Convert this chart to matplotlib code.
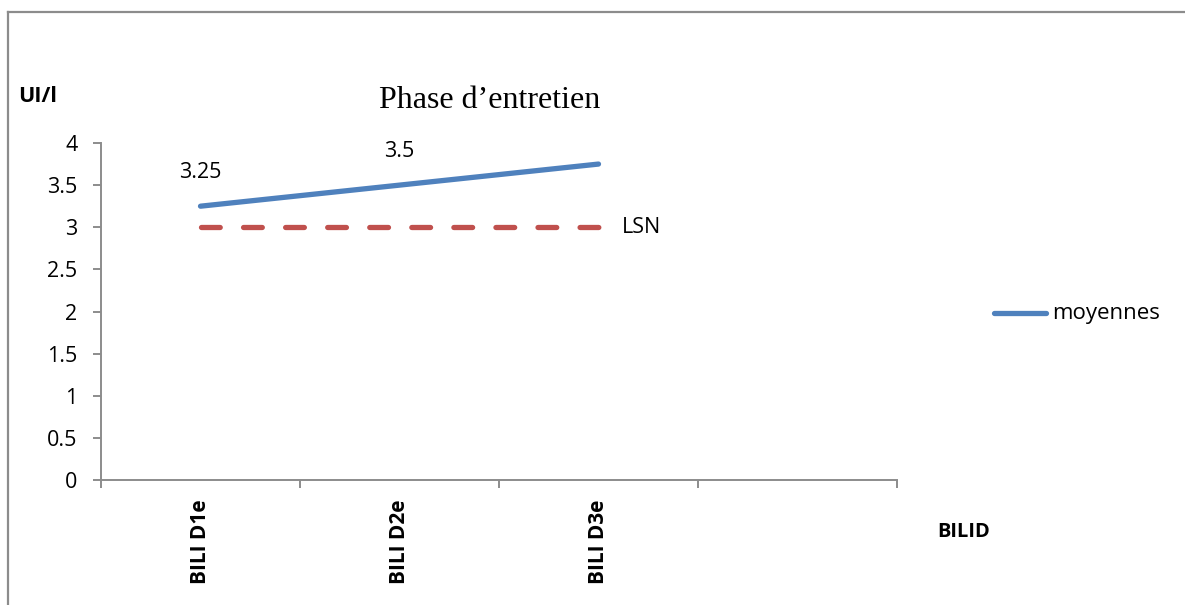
import matplotlib
matplotlib.use("Agg")
import matplotlib.pyplot as plt
from matplotlib.lines import Line2D

# Data
categories = ["BILI D1e", "BILI D2e", "BILI D3e", ""]
moyennes = [3.25, 3.5, 3.75]
moyennes_labels = ["3.25", "3.5", None]
lsn_value = 3.0
y_ticks = [0, 0.5, 1, 1.5, 2, 2.5, 3, 3.5, 4]
y_tick_labels = ["0", "0.5", "1", "1.5", "2", "2.5", "3", "3.5", "4"]

W, H = 1185, 605
fig = plt.figure(figsize=(W / 100, H / 100), dpi=100)
fig.patch.set_facecolor("white")

SANS = ["Open Sans", "DejaVu Sans"]
SERIF = ["Liberation Serif", "DejaVu Serif"]
AX_COL = "#8c8c8c"
FS = 15.5

# Outer frame (left and top edges visible)
fig.add_artist(Line2D([8 / W, 8 / W], [0, 1 - 12 / H], transform=fig.transFigure,
                      color="#8c8c8c", lw=1.6))
fig.add_artist(Line2D([8 / W, 1], [1 - 12 / H, 1 - 12 / H], transform=fig.transFigure,
                      color="#8c8c8c", lw=1.6))

left, right, top, bottom = 101, 897, 143, 480
ax = fig.add_axes([left / W, 1 - bottom / H, (right - left) / W, (bottom - top) / H])

x = list(range(len(moyennes)))
ax.plot(x, moyennes, color="#4F81BD", lw=3.8, solid_capstyle="round", zorder=3)
ax.plot(x, [lsn_value] * len(x), color="#C0504D", lw=3.8, dashes=(3.55, 4.42),
        dash_capstyle="round", zorder=2)

for xi, yi, lab in zip(x, moyennes, moyennes_labels):
    if lab:
        ax.annotate(lab, (xi, yi), xytext=(0, 24), textcoords="offset points",
                    ha="center", va="center", fontsize=FS, family=SANS)

ax.annotate("LSN", (x[-1], lsn_value), xytext=(16.5, 0), textcoords="offset points",
            ha="left", va="center", fontsize=FS, family=SANS)

ax.set_xlim(-0.5, len(categories) - 0.5)
ax.set_ylim(0, 4)
ax.set_yticks(y_ticks)
ax.set_yticklabels(y_tick_labels, family=SANS, fontsize=FS)
ax.set_xticks([i - 0.5 for i in range(len(categories) + 1)])
ax.set_xticklabels([])
ax.set_xticks(range(len(categories)), minor=True)
ax.set_xticklabels(categories, minor=True, rotation=90, family=SANS,
                   fontsize=15, fontweight="bold", va="top", ha="center")
ax.tick_params(axis="x", which="minor", length=0, pad=14)
ax.tick_params(axis="x", which="major", length=6, width=1.4, color=AX_COL, direction="out")
ax.tick_params(axis="y", length=6, width=1.4, color=AX_COL, direction="out", pad=11)

for s in ["top", "right"]:
    ax.spines[s].set_visible(False)
for s in ["left", "bottom"]:
    ax.spines[s].set_color(AX_COL)
    ax.spines[s].set_linewidth(1.4)

# Titles and axis names
fig.text(490 / W, 1 - 100 / H, "Phase d\u2019entretien", family=SERIF, fontsize=23,
         ha="center", va="center")
fig.text(18 / W, 1 - 97 / H, "UI/l", family=SANS, fontsize=15.5, fontweight="bold",
         ha="left", va="center")
fig.text(937 / W, 1 - 532 / H, "BILID", family=SANS, fontsize=14.5, fontweight="bold",
         ha="left", va="center")

# Legend
fig.add_artist(Line2D([994 / W, 1046 / W], [1 - 313 / H, 1 - 313 / H],
                      transform=fig.transFigure, color="#4F81BD", lw=3.8,
                      solid_capstyle="round"))
fig.text(1052 / W, 1 - 313 / H, "moyennes", family=SANS, fontsize=16,
         ha="left", va="center")

fig.savefig("out.png", dpi=100, facecolor="white")
